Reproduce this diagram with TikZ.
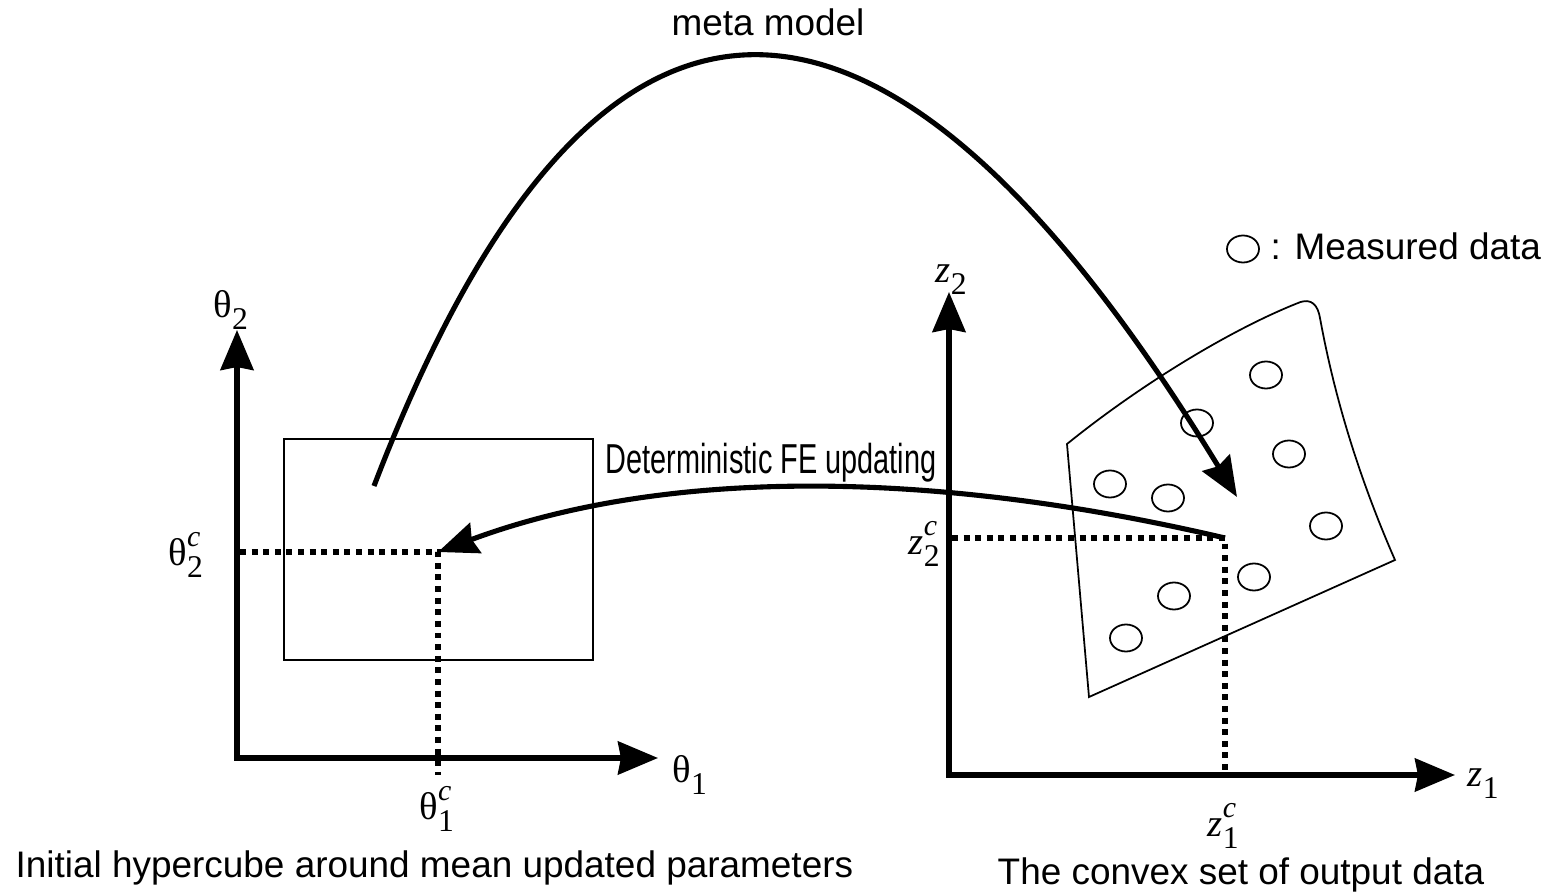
\documentclass[tikz,border=0pt]{standalone}
\usepackage{fontspec}
\setmainfont{Liberation Sans}
\newfontfamily\labfont{Liberation Serif}
\newfontfamily\narrowfont{Liberation Sans}[FakeStretch=0.69]
\usetikzlibrary{arrows.meta,shapes.geometric}

% base letter with lowered index and raised mark
\newcommand{\axlab}[3]{#1\rlap{\raisebox{0.5em}{\fontsize{8.5}{9}\selectfont\itshape #3}}\raisebox{-0.3em}{\fontsize{9}{9}\selectfont #2}}

\begin{document}
\begin{tikzpicture}[
  x=0.01cm, y=-0.01cm,
  axis/.style={line width=1.45pt,
    {Stealth[length=0.4cm, width=0.33cm, inset=0.03cm]}-{Stealth[length=0.4cm, width=0.33cm, inset=0.03cm]}},
  bigarrow/.style={line width=1.45pt, -{Stealth[length=0.4cm, width=0.32cm, inset=0.04cm]}},
  guide/.style={line width=1.6pt, dash pattern=on 1.7pt off 1.6pt},
  outline/.style={line width=0.5pt},
  datum/.style={draw, ellipse, line width=0.5pt, minimum width=0.32cm,
    minimum height=0.27cm, inner sep=0pt},
  txt/.style={font=\fontsize{10.5}{12}\selectfont, inner sep=0pt},
  lab/.style={font=\labfont\fontsize{11}{12}\selectfont, inner sep=0pt},
]
  \useasboundingbox (0,0) rectangle (1541,894);

  % Left: parameter space
  \coordinate (O1) at (237,758);
  \coordinate (X1) at (658,758);
  \coordinate (Y1) at (237,330);
  \draw[axis] (Y1) -- (O1) -- (X1);
  \draw[outline] (284,439) rectangle (593,660);

  \coordinate (th2c-pt) at (240,552);
  \coordinate (thc) at (438,552);
  \coordinate (th1c-pt) at (438,775);
  \draw[guide] (th2c-pt) -- (thc) -- (th1c-pt);

  \node[lab, anchor=base west] (th2) at (213,318) {\axlab{θ}{2}{}};
  \node[lab, anchor=base west] (th1) at (672,783) {\axlab{θ}{1}{}};
  \node[lab, anchor=base west] (th1c) at (419,820) {\axlab{θ}{1}{c}};
  \node[lab, anchor=base west] (th2c) at (168,566) {\axlab{θ}{2}{c}};

  % Right: output space
  \coordinate (O2) at (949,775);
  \coordinate (X2) at (1455,775);
  \coordinate (Y2) at (949,292);
  \draw[axis] (Y2) -- (O2) -- (X2);

  \draw[outline] (1067,444) .. controls (1140,385) and (1230,330) .. (1298,303)
    .. controls (1312,297) and (1318,306) .. (1320,318)
    .. controls (1335,400) and (1360,480) .. (1395,560)
    -- (1089,697) -- cycle;

  \node[datum] (d1) at (1266,375) {};
  \node[datum] (d2) at (1197,423) {};
  \node[datum] (d3) at (1289,454) {};
  \node[datum] (d4) at (1110,484) {};
  \node[datum] (d5) at (1168,498) {};
  \node[datum] (d6) at (1326,526) {};
  \node[datum] (d7) at (1254,577) {};
  \node[datum] (d8) at (1174,596) {};
  \node[datum] (d9) at (1126,638) {};

  \coordinate (z2c-pt) at (952,538);
  \coordinate (zc) at (1225,538);
  \coordinate (z1c-pt) at (1225,775);
  \draw[guide] (z2c-pt) -- (zc) -- (z1c-pt);

  \node[lab, anchor=base west] (z2) at (935,283) {\axlab{\textit{z}}{2}{}};
  \node[lab, anchor=base west] (z1) at (1467,787) {\axlab{\textit{z}}{1}{}};
  \node[lab, anchor=base west] (z1c) at (1207,837) {\axlab{\textit{z}}{1}{c}};
  \node[lab, anchor=base west] (z2c) at (908,555) {\axlab{\textit{z}}{2}{c}};

  % Legend
  \node[datum] (leg) at (1243,249) {};
  \node[txt, anchor=base west] (legtext) at (1270,260) {: Measured data};

  % Mappings
  \coordinate (mstart) at (374,486);
  \coordinate (mend) at (1237,497);
  \draw[bigarrow] (mstart) .. controls (594,-88) and (882,-84) .. (mend);
  \node[txt, anchor=base] (meta) at (768,36) {meta model};

  \draw[bigarrow] (zc) .. controls (922,467) and (658,470) .. (thc);
  \node[txt, font=\narrowfont\fontsize{11.9}{13}\selectfont, anchor=base west]
    (fe) at (605,474) {Deterministic FE updating};

  % Captions
  \node[txt, anchor=base west] (cap1) at (15,877) {Initial hypercube around mean updated parameters};
  \node[txt, anchor=base west] (cap2) at (997,885) {The convex set of output data};
\end{tikzpicture}
\end{document}
